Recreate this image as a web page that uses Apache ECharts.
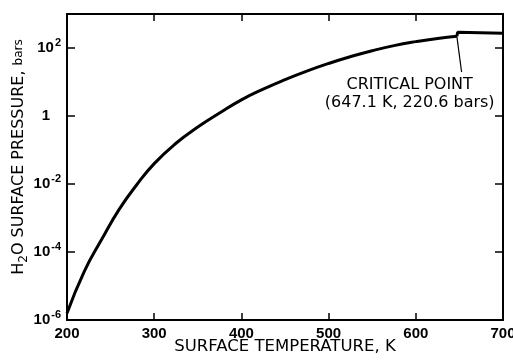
<!DOCTYPE html>
<html>
<head>
<meta charset="utf-8">
<script src="https://cdn.jsdelivr.net/npm/echarts@6/dist/echarts.min.js"></script>
<style>
html,body{margin:0;padding:0;background:#fff;}
#chart{width:513px;height:360px;}
</style>
</head>
<body>
<div id="chart"></div>
<script>
// Saturation curve (K, bars)
var temperatures = [200, 220, 240, 260, 280, 300, 325, 350, 375, 400, 425, 450, 475, 500, 525, 550, 575, 600, 625, 647.1];
var pressures = [1.58e-6, 2.75e-5, 2.4e-4, 1.82e-3, 9.5e-3, 0.0398, 0.158, 0.473, 1.22, 2.99, 6.17, 11.7, 20.9, 35.1, 55.6, 83.2, 117.5, 154, 191.6, 220.6];
// Beyond the critical point
var superTemps = [647.1, 648, 700];
var superPressures = [220.6, 290, 270];
var criticalPoint = [647.1, 220.6];
var leaderEnd = [652.5, 19.7];
var labelAnchor = [593, 4.6];
var yExponents = [-6, -4, -2, 0, 2];

var SANS = 'Liberation Sans, Arial, sans-serif';
var WIDE = 'DejaVu Sans, sans-serif';

function pairs(xs, ys) { return xs.map(function (x, i) { return [x, ys[i]]; }); }

var chart = echarts.init(document.getElementById('chart'));

function yLabel(v) {
  var e = Math.round(Math.log10(v));
  if (yExponents.indexOf(e) < 0) return '';
  if (e === 0) return '{b|1}{sp|}';
  return '{b|10}{s|' + e + '}';
}

var axisCommonX = {
  type: 'value', min: 200, max: 700, interval: 100,
  splitLine: { show: false },
  axisLine: { onZero: false, lineStyle: { color: '#000', width: 2 } },
  axisTick: { inside: true, length: 7, lineStyle: { color: '#000', width: 1.5 } }
};
var axisCommonY = {
  type: 'log', logBase: 10, min: 1e-6, max: 1e3, interval: 2,
  splitLine: { show: false },
  axisLine: { lineStyle: { color: '#000', width: 2 } },
  axisTick: { inside: true, length: 8, lineStyle: { color: '#000', width: 1.5 } }
};

chart.setOption({
  animation: false,
  backgroundColor: '#fff',
  grid: { left: 67, right: 10, top: 14, bottom: 40, containLabel: false, outerBoundsMode: 'none' },
  xAxis: [
    Object.assign({}, axisCommonX, {
      position: 'bottom',
      axisLabel: { color: '#000', fontSize: 15, fontWeight: 'bold', fontFamily: SANS, margin: 6 },
      name: 'SURFACE TEMPERATURE, K',
      nameLocation: 'middle', nameGap: 18, nameMoveOverlap: false,
      nameTextStyle: { color: '#000', fontSize: 16.5, fontFamily: WIDE }
    }),
    Object.assign({}, axisCommonX, { position: 'top', axisLabel: { show: false } })
  ],
  yAxis: [
    Object.assign({}, axisCommonY, {
      position: 'left',
      axisLabel: {
        color: '#000', fontFamily: SANS, margin: 6,
        formatter: yLabel,
        rich: {
          b: { fontSize: 15, fontWeight: 'bold', fontFamily: SANS, color: '#000' },
          s: { fontSize: 11, fontWeight: 'bold', fontFamily: SANS, color: '#000', padding: [0, 0, 10, 1] },
          sp: { width: 11 }
        }
      },
      name: '{t|H}{sub|2}{t|O SURFACE PRESSURE, }{sm|bars}',
      nameLocation: 'middle', nameGap: 37, nameRotate: 90, nameMoveOverlap: false,
      nameTextStyle: {
        color: '#000', fontFamily: WIDE, padding: [0, 0, 0, 20],
        rich: {
          t: { fontSize: 16, fontFamily: WIDE, color: '#000' },
          sub: { fontSize: 12, fontFamily: WIDE, color: '#000', padding: [10, 0, 0, 0] },
          sm: { fontSize: 12, fontFamily: WIDE, color: '#000' }
        }
      }
    }),
    Object.assign({}, axisCommonY, { position: 'right', axisLabel: { show: false } })
  ],
  series: [
    {
      type: 'line', xAxisIndex: 0, yAxisIndex: 0,
      data: pairs(temperatures, pressures),
      smooth: 0.5, showSymbol: false, silent: true,
      lineStyle: { color: '#000', width: 3 },
      markLine: {
        silent: true, symbol: 'none',
        label: { show: false },
        lineStyle: { color: '#000', width: 1.2, type: 'solid' },
        data: [[{ coord: criticalPoint }, { coord: leaderEnd }]]
      },
      markPoint: {
        silent: true, symbol: 'circle', symbolSize: 0,
        data: [{
          coord: labelAnchor,
          label: {
            show: true, position: 'inside', align: 'center', verticalAlign: 'middle',
            formatter: '{a|CRITICAL POINT}\n{a|(647.1 K, 220.6 bars)}',
            rich: { a: { fontSize: 16, fontFamily: WIDE, color: '#000', lineHeight: 18, align: 'center' } }
          }
        }]
      }
    },
    {
      type: 'line', xAxisIndex: 0, yAxisIndex: 0,
      data: pairs(superTemps, superPressures),
      showSymbol: false, silent: true,
      lineStyle: { color: '#000', width: 3 }
    }
  ]
});
</script>
</body>
</html>
